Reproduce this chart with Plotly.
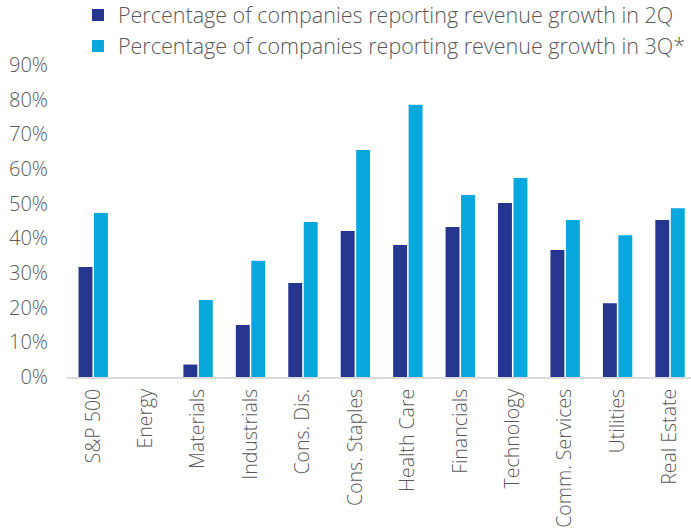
import plotly.graph_objects as go

categories = ["S&P 500", "Energy", "Materials", "Industrials", "Cons. Dis.", "Cons. Staples",
              "Health Care", "Financials", "Technology", "Comm. Services", "Utilities", "Real Estate"]
growth_2q = [31.7, 0, 3.6, 15.0, 27.1, 42.1, 38.1, 43.3, 50.2, 36.6, 21.3, 45.3]
growth_3q = [47.3, 0, 22.2, 33.5, 44.7, 65.5, 78.5, 52.5, 57.4, 45.3, 40.9, 48.7]
series_names = ["Percentage of companies reporting revenue growth in 2Q",
                "Percentage of companies reporting revenue growth in 3Q*"]
y_ticks = [0, 10, 20, 30, 40, 50, 60, 70, 80, 90]
y_tick_labels = ["0%", "10%", "20%", "30%", "40%", "50%", "60%", "70%", "80%", "90%"]

FONT = "Open Sans"
GRAY = "#595959"

fig = go.Figure()
fig.add_trace(go.Bar(x=categories, y=growth_2q, name=series_names[0],
                     marker=dict(color="#26358F", line=dict(width=0))))
fig.add_trace(go.Bar(x=categories, y=growth_3q, name=series_names[1],
                     marker=dict(color="#08A8DF", line=dict(width=0))))

fig.update_layout(
    width=691, height=530,
    margin=dict(l=67, r=0, t=65, b=153, autoexpand=False),
    paper_bgcolor="white", plot_bgcolor="white",
    barmode="group", bargap=0.41, bargroupgap=0.1,
    font=dict(family=FONT, color=GRAY, size=20, weight=300),
    legend=dict(x=0.0176, y=1.226, xanchor="left", yanchor="top",
                font=dict(family=FONT, size=21.5, color=GRAY, weight=300),
                bgcolor="rgba(0,0,0,0)", tracegroupgap=0),
    xaxis=dict(range=[-0.5, 11.4], showline=True, linecolor="#dcdcdc", linewidth=2,
               showgrid=False, zeroline=False, tickangle=-90, ticks="",
               ticklabelstandoff=2, automargin=False,
               tickfont=dict(family=FONT, size=19.5, color=GRAY, weight=300)),
    yaxis=dict(range=[0, 90], tickvals=y_ticks, ticktext=y_tick_labels, showgrid=False,
               zeroline=False, showline=False, ticks="", ticklabelstandoff=18,
               automargin=False,
               tickfont=dict(family=FONT, size=20, color=GRAY, weight=300)),
    showlegend=True,
)

fig.write_html("out.html")
